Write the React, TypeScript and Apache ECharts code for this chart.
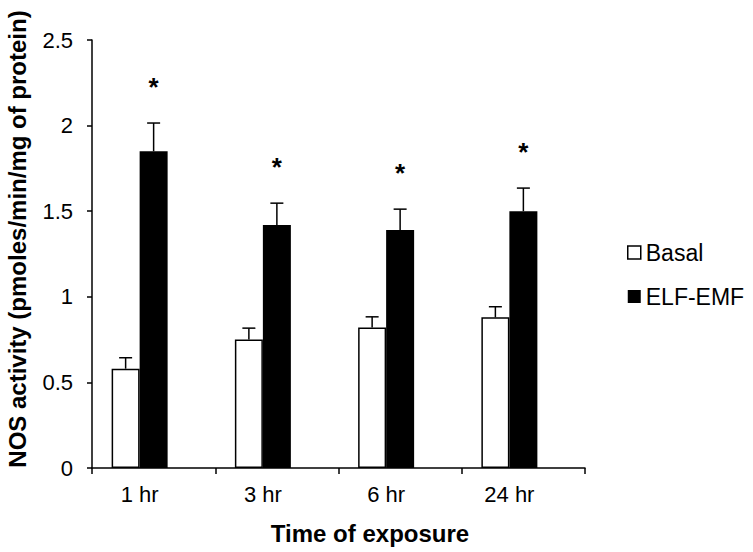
import React, { useEffect, useRef } from "react";
import * as echarts from "echarts";

const categories = ["1 hr", "3 hr", "6 hr", "24 hr"];
const basalValues = [0.58, 0.75, 0.82, 0.88];
const basalErrors = [0.064, 0.067, 0.063, 0.062];
const elfValues = [1.85, 1.42, 1.39, 1.5];
const elfErrors = [0.165, 0.127, 0.122, 0.135];
const significant = [true, true, true, true];
const yTicks = [0, 0.5, 1, 1.5, 2, 2.5];

const BAR_W = 28;
const FONT = "Liberation Sans, Arial, Helvetica, sans-serif";

function makeErrorRender(slot: number) {
  return (params: any, api: any) => {
    const i = api.value(0);
    const v = api.value(1);
    const e = api.value(2);
    const star = api.value(3);
    const base = api.coord([i, v]);
    const top = api.coord([i, v + e]);
    const x = base[0] + slot * BAR_W;
    const children: any[] = [
      {
        type: "line",
        shape: { x1: x, y1: base[1], x2: x, y2: top[1] },
        style: { stroke: "#000", lineWidth: 1.5 },
      },
      {
        type: "line",
        shape: { x1: x - 6.5, y1: top[1], x2: x + 6.5, y2: top[1] },
        style: { stroke: "#000", lineWidth: 1.5 },
      },
    ];
    if (star) {
      children.push({
        type: "text",
        x: x,
        y: top[1] - 36,
        style: {
          text: "*",
          fill: "#000",
          font: `bold 26px ${FONT}`,
          textAlign: "center",
          textVerticalAlign: "middle",
        },
      });
    }
    return { type: "group", children };
  };
}

export default function App() {
  const ref = useRef<HTMLDivElement>(null);
  useEffect(() => {
    if (!ref.current) return;
    const chart = echarts.init(ref.current, null, { renderer: "svg" });
    chart.setOption({
      animation: false,
      backgroundColor: "#fff",
      grid: { left: 92, right: 168, top: 40, bottom: 84, containLabel: false },
      legend: {
        orient: "vertical",
        left: 622,
        top: 236,
        itemWidth: 13,
        itemHeight: 13,
        itemGap: 21,
        textStyle: { fontSize: 23, color: "#000", fontFamily: FONT },
        data: [
          {
            name: "Basal",
            icon: "rect",
            itemStyle: { color: "#fff", borderColor: "#000", borderWidth: 1.5 },
          },
          { name: "ELF-EMF", icon: "rect", itemStyle: { color: "#000" } },
        ],
      },
      xAxis: {
        type: "category",
        data: categories,
        axisLine: { lineStyle: { color: "#000", width: 1.5 } },
        axisTick: { show: true, length: 6, lineStyle: { color: "#000", width: 1.5 } },
        axisLabel: {
          color: "#000",
          fontSize: 22,
          fontFamily: FONT,
          margin: 15,
          padding: [0, 28, 0, 0],
        },
      },
      yAxis: {
        type: "value",
        min: yTicks[0],
        max: yTicks[yTicks.length - 1],
        interval: 0.5,
        splitLine: { show: false },
        axisLine: { show: true, lineStyle: { color: "#000", width: 1.5 } },
        axisTick: { show: true, length: 5, lineStyle: { color: "#000", width: 1.5 } },
        axisLabel: { color: "#000", fontSize: 22, fontFamily: FONT, margin: 19 },
      },
      series: [
        {
          name: "Basal",
          type: "bar",
          barWidth: BAR_W,
          barGap: "0%",
          data: basalValues,
          itemStyle: { color: "#fff", borderColor: "#000", borderWidth: 1.5 },
        },
        {
          name: "ELF-EMF",
          type: "bar",
          barWidth: BAR_W,
          barGap: "0%",
          data: elfValues,
          itemStyle: { color: "#000" },
        },
        {
          name: "spacer",
          type: "bar",
          barWidth: BAR_W,
          barGap: "0%",
          silent: true,
          data: categories.map(() => null),
        },
        {
          name: "BasalErr",
          type: "custom",
          z: 5,
          silent: true,
          renderItem: makeErrorRender(-1),
          encode: { x: 0, y: 1 },
          data: basalValues.map((v, i) => [i, v, basalErrors[i], 0]),
        },
        {
          name: "ElfErr",
          type: "custom",
          z: 5,
          silent: true,
          clip: false,
          renderItem: makeErrorRender(0),
          encode: { x: 0, y: 1 },
          data: elfValues.map((v, i) => [i, v, elfErrors[i], significant[i] ? 1 : 0]),
        },
      ],
      graphic: [
        {
          type: "text",
          x: 370,
          y: 533,
          style: {
            text: "Time of exposure",
            font: `bold 24px ${FONT}`,
            fill: "#000",
            textAlign: "center",
            textVerticalAlign: "middle",
          },
        },
        {
          type: "text",
          x: 17,
          y: 239,
          rotation: Math.PI / 2,
          style: {
            text: "NOS activity (pmoles/min/mg of protein)",
            font: `bold 24px ${FONT}`,
            fill: "#000",
            textAlign: "center",
            textVerticalAlign: "middle",
          },
        },
      ],
    });
    return () => chart.dispose();
  }, []);
  return (
    <div
      ref={ref}
      style={{ position: "fixed", left: 0, top: 0, width: 753, height: 552 }}
    />
  );
}
